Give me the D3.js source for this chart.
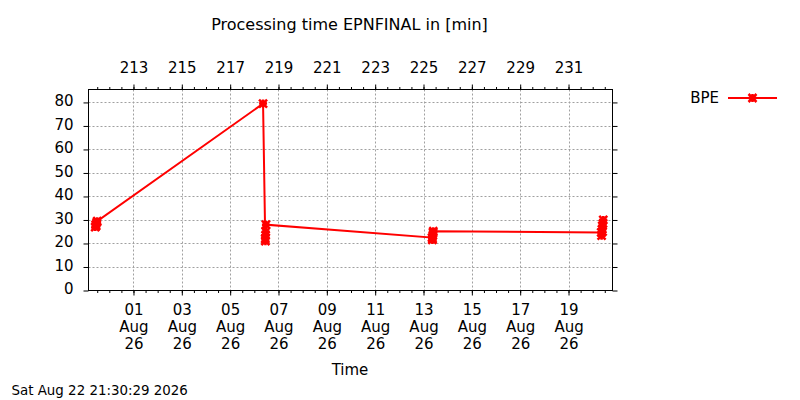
<!DOCTYPE html>
<html><head><meta charset="utf-8">
<script src="https://cdn.jsdelivr.net/npm/d3@7"></script>
<style>
body{margin:0;background:#fff}
svg text{font-family:"DejaVu Sans",sans-serif;fill:#000}
</style>
</head><body>
<svg id="chart" width="800" height="400"></svg>
<script>
// ---- data ----
const title = "Processing time EPNFINAL in [min]";
const xTitle = "Time";
const stamp = "Sat Aug 22 21:30:29 2026";
const seriesName = "BPE";
const times = [
  "2026-07-30T10:00:00Z","2026-07-30T10:30:00Z","2026-07-30T11:00:00Z","2026-07-30T11:30:00Z","2026-07-30T12:00:00Z",
  "2026-08-06T08:40:00Z",
  "2026-08-06T10:50:00Z","2026-08-06T11:00:00Z","2026-08-06T11:10:00Z","2026-08-06T11:20:00Z","2026-08-06T11:30:00Z",
  "2026-08-13T08:30:00Z","2026-08-13T08:45:00Z","2026-08-13T09:00:00Z","2026-08-13T09:15:00Z","2026-08-13T09:30:00Z","2026-08-13T09:40:00Z",
  "2026-08-20T08:30:00Z","2026-08-20T08:50:00Z","2026-08-20T09:10:00Z","2026-08-20T09:30:00Z","2026-08-20T09:50:00Z","2026-08-20T10:10:00Z","2026-08-20T10:30:00Z"
];
const values = [
  27.0, 28.0, 27.5, 29.0, 29.5,
  79.5,
  22.0, 21.0, 23.5, 25.0, 28.0,
  22.5, 21.5, 22.0, 23.5, 24.5, 25.2,
  24.7, 23.3, 26.0, 27.5, 25.0, 28.5, 30.0
];
const yTicks = [0, 10, 20, 30, 40, 50, 60, 70, 80];
const xTickDates = ["2026-08-01","2026-08-03","2026-08-05","2026-08-07","2026-08-09","2026-08-11","2026-08-13","2026-08-15","2026-08-17","2026-08-19"];
const topTicks = [213, 215, 217, 219, 221, 223, 225, 227, 229, 231];
const topRefDay = 213;            // day-of-year of 2026-08-01
const topRefDate = "2026-08-01";
const xDomain = ["2026-07-30T03:20:00Z", "2026-08-20T19:40:00Z"];
const yDomain = [0, 85.5];

// ---- layout ----
const L = 88.5, R = 612.5, T = 89.5, B = 290.5;
const svg = d3.select("#chart");
svg.append("rect").attr("width", 800).attr("height", 400).attr("fill", "#fff");

const x = d3.scaleUtc().domain(xDomain.map(d => new Date(d))).range([L, R]);
const y = d3.scaleLinear().domain(yDomain).range([B, T]);
const dayMs = 86400000;
const ref = new Date(topRefDate + "T00:00:00Z").getTime();
const toDoy = d => topRefDay + (d.getTime() - ref) / dayMs;
const xTop = d3.scaleLinear().domain(x.domain().map(toDoy)).range([L, R]);

const tickDates = xTickDates.map(d => new Date(d + "T00:00:00Z"));
const minorDates = d3.utcHour.every(12).range(x.domain()[0], x.domain()[1]);
const minorTop = d3.range(Math.ceil(xTop.domain()[0] * 2) / 2, xTop.domain()[1], 0.5);
const fmtD = d3.utcFormat("%d"), fmtB = d3.utcFormat("%b"), fmtY = d3.utcFormat("%y");

// grid
const grid = svg.append("g").attr("stroke", "#a0a0a0").attr("stroke-dasharray", "2,2").attr("stroke-width", 1);
grid.selectAll("line.gy").data(yTicks.filter(v => v > 0)).join("line")
  .attr("x1", L).attr("x2", R).attr("y1", d => Math.round(y(d)) + 0.5).attr("y2", d => Math.round(y(d)) + 0.5);
grid.selectAll("line.gx").data(tickDates).join("line")
  .attr("y1", T).attr("y2", B).attr("x1", d => Math.round(x(d)) + 0.5).attr("x2", d => Math.round(x(d)) + 0.5);

function styleAxis(g) {
  g.select(".domain").remove();
  g.selectAll(".tick line").attr("stroke", "#000");
  g.selectAll("text").attr("font-size", "15px").attr("font-family", "DejaVu Sans");
  g.attr("font-family", null).attr("font-size", null);
}

// left axis
svg.append("g").attr("transform", `translate(${L},0)`)
  .call(d3.axisLeft(y).tickValues(yTicks).tickSize(5).tickPadding(10))
  .call(styleAxis).selectAll("text").attr("dy", "0.22em");
// right axis
svg.append("g").attr("transform", `translate(${R},0)`)
  .call(d3.axisRight(y).tickValues(yTicks).tickSize(5).tickFormat(""))
  .call(styleAxis);
// bottom minor
svg.append("g").attr("transform", `translate(0,${B})`)
  .call(d3.axisBottom(x).tickValues(minorDates).tickSize(2.5).tickFormat(""))
  .call(styleAxis);
// bottom major
const bx = svg.append("g").attr("transform", `translate(0,${B})`)
  .call(d3.axisBottom(x).tickValues(tickDates).tickSize(5).tickFormat(fmtD))
  .call(styleAxis);
bx.selectAll(".tick text").each(function(d) {
  const t = d3.select(this).text(null).attr("y", 24.5).attr("dy", 0);
  [fmtD(d), fmtB(d), fmtY(d)].forEach((s, i) =>
    t.append("tspan").attr("x", 0).attr("dy", i === 0 ? 0 : 16.8).text(s));
});
// top minor
svg.append("g").attr("transform", `translate(0,${T})`)
  .call(d3.axisTop(xTop).tickValues(minorTop).tickSize(2.5).tickFormat(""))
  .call(styleAxis);
// top major
svg.append("g").attr("transform", `translate(0,${T})`)
  .call(d3.axisTop(xTop).tickValues(topTicks).tickSize(5).tickPadding(12).tickFormat(d3.format("d")))
  .call(styleAxis);

// frame
svg.append("rect").attr("x", L).attr("y", T).attr("width", R - L).attr("height", B - T)
  .attr("fill", "none").attr("stroke", "#000").attr("stroke-width", 1);

// series
const pts = times.map((t, i) => ({ t: new Date(t), v: values[i] }));
const line = d3.line().x(d => x(d.t)).y(d => y(d.v));
svg.append("path").datum(pts).attr("d", line)
  .attr("fill", "none").attr("stroke", "#ff0000").attr("stroke-width", 2);
const r = 4;
const star = `M${-r},0L${r},0M0,${-r}L0,${r}M${-r},${-r}L${r},${r}M${-r},${r}L${r},${-r}`;
svg.append("g").selectAll("path").data(pts).join("path")
  .attr("transform", d => `translate(${x(d.t)},${y(d.v)})`)
  .attr("d", star).attr("stroke", "#ff0000").attr("stroke-width", 2.5).attr("fill", "none");

// titles
svg.append("text").attr("x", 349.5).attr("y", 29.5).attr("text-anchor", "middle")
  .attr("font-size", "16px").text(title);
svg.append("text").attr("x", 350).attr("y", 375).attr("text-anchor", "middle")
  .attr("font-size", "15px").text(xTitle);
svg.append("text").attr("x", 11.5).attr("y", 395).attr("font-size", "13.4px").text(stamp);

// legend
const lg = svg.append("g");
lg.append("text").attr("x", 719).attr("y", 102.5).attr("text-anchor", "end").attr("font-size", "15px").text(seriesName);
lg.append("line").attr("x1", 728).attr("x2", 777).attr("y1", 98).attr("y2", 98)
  .attr("stroke", "#ff0000").attr("stroke-width", 2);
lg.append("path").attr("transform", "translate(752.5,98)").attr("d", star)
  .attr("stroke", "#ff0000").attr("stroke-width", 2.5).attr("fill", "none");
</script>
</body></html>
